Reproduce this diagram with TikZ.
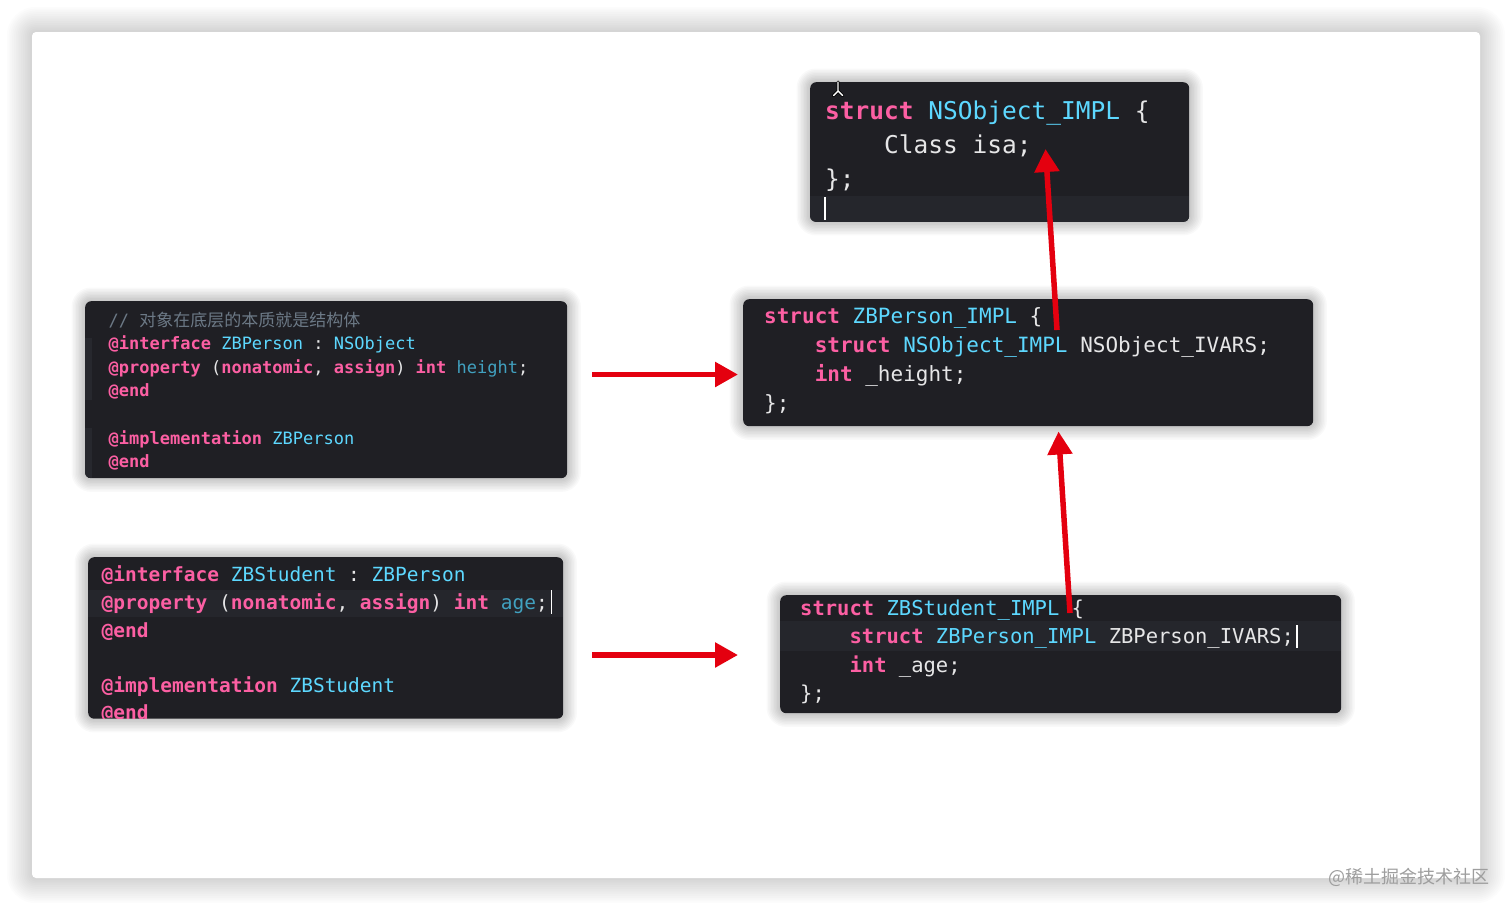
\documentclass[tikz,border=0pt]{standalone}
\usepackage{fontspec}
\setmonofont{DejaVu Sans Mono}
\newfontfamily\cjkfont{Noto Sans CJK SC}
\usetikzlibrary{arrows.meta,calc}
\definecolor{kwc}{HTML}{FC5FA3}
\definecolor{tyc}{HTML}{5DD8FF}
\definecolor{pnc}{HTML}{41A1C0}
\definecolor{txc}{HTML}{E6E6E7}
\definecolor{cmc}{HTML}{6C7986}
\definecolor{bgc}{HTML}{1F1F24}
\definecolor{hlc}{HTML}{25262C}
\definecolor{gutc}{HTML}{27282E}
\definecolor{arrc}{HTML}{E4000F}
\definecolor{wmc}{HTML}{9E9E9E}
\newcommand\Kw[1]{\textcolor{kwc}{\bfseries #1}}
\newcommand\Ty[1]{\textcolor{tyc}{#1}}
\newcommand\Pn[1]{\textcolor{pnc}{#1}}
\newcommand\Cm[1]{\textcolor{cmc}{#1}}
\newcommand\Ind{\phantom{xxxx}}
\newcommand\fA{\ttfamily\fontsize{24.5}{24.5}\selectfont}
\newcommand\fB{\ttfamily\fontsize{21}{21}\selectfont}
\newcommand\fC{\ttfamily\fontsize{20.5}{20.5}\selectfont}
\newcommand\fD{\ttfamily\fontsize{17}{17}\selectfont}
\newcommand\fE{\ttfamily\fontsize{19.5}{19.5}\selectfont}
\pgfdeclarelayer{bg}
\pgfsetlayers{bg,main}
\tikzset{
  box/.style={fill=bgc, rounded corners=6pt, inner sep=0pt, anchor=north west, rectangle},
  code/.style={anchor=base west, inner sep=0pt, text=txc},
  redarrow/.style={draw=arrc, line width=5.5pt, -{Triangle[length=23pt,width=24pt]}},
  cursorline/.style={draw=white, line width=1.5pt}
}
\begin{document}
\begin{tikzpicture}[x=1pt,y=-1pt]
\useasboundingbox (0,0) rectangle (1512,910);

% boxes
\node[box, minimum width=379pt, minimum height=139.5pt] (A) at (810,82) {};
\node[box, minimum width=570pt, minimum height=127pt] (B) at (743,299) {};
\node[box, minimum width=561pt, minimum height=118pt] (C) at (780,595) {};
\node[box, minimum width=482pt, minimum height=177pt] (D) at (85,301) {};
\node[box, minimum width=475pt, minimum height=161.5pt] (E) at (88,557) {};

\begin{pgfonlayer}{bg}
  \fill[white] (0,0) rectangle (1512,910);
  \foreach \i [evaluate=\i as \r using 4+1.8*\i] in {1,...,14}
    \fill[black, opacity=0.011, rounded corners=\r pt] (32-1.8*\i,32-1.8*\i) rectangle (1480+1.8*\i,878+1.8*\i);
  \fill[white, rounded corners=4pt] (32,32) rectangle (1480,878);
  \foreach \n in {A,B,C,D,E}{
    \foreach \i [evaluate=\i as \r using 6+1.5*\i] in {1,...,9}
      \fill[black, opacity=0.022, rounded corners=\r pt] ($(\n.north west)+(-1.5*\i,-1.5*\i)$) rectangle ($(\n.south east)+(1.5*\i,1.5*\i)$);
  }
\end{pgfonlayer}

% line highlights and gutters
\begin{scope}
  \clip[rounded corners=6pt] (A.north west) rectangle (A.south east);
  \fill[hlc] (810,196) rectangle (1189,222);
\end{scope}
\begin{scope}
  \clip[rounded corners=6pt] (C.north west) rectangle (C.south east);
  \fill[hlc] (780,621) rectangle (1341,651);
\end{scope}
\begin{scope}
  \clip[rounded corners=6pt] (D.north west) rectangle (D.south east);
  \fill[gutc] (85,338) rectangle (92,400);
  \fill[gutc] (85,428) rectangle (92,478);
\end{scope}

% Box A
\node[code, font=\fA] (a1) at (825,119) {\Kw{struct} \Ty{NSObject\_IMPL} \{};
\node[code, font=\fA] (a2) at (825,153) {\Ind Class isa;};
\node[code, font=\fA] (a3) at (825,187) {\};};

% Box B
\node[code, font=\fB] (b1) at (764,323) {\Kw{struct} \Ty{ZBPerson\_IMPL} \{};
\node[code, font=\fB] (b2) at (764,352) {\Ind\Kw{struct} \Ty{NSObject\_IMPL} NSObject\_IVARS;};
\node[code, font=\fB] (b3) at (764,381) {\Ind\Kw{int} \_height;};
\node[code, font=\fB] (b4) at (764,410) {\};};

% Box C
\node[code, font=\fC] (c1) at (800,615) {\Kw{struct} \Ty{ZBStudent\_IMPL} \{};
\node[code, font=\fC] (c2) at (800,643.5) {\Ind\Kw{struct} \Ty{ZBPerson\_IMPL} ZBPerson\_IVARS;};
\node[code, font=\fC] (c3) at (800,672) {\Ind\Kw{int} \_age;};
\node[code, font=\fC] (c4) at (800,700) {\};};

% Box D
\node[code, font=\fD] (d1) at (108.5,326) {\Cm{// {\cjkfont 对象在底层的本质就是结构体}}};
\node[code, font=\fD] (d2) at (108.5,349.6) {\Kw{@interface} \Ty{ZBPerson} : \Ty{NSObject}};
\node[code, font=\fD] (d3) at (108.5,373.2) {\Kw{@property} (\Kw{nonatomic}, \Kw{assign}) \Kw{int} \Pn{height};};
\node[code, font=\fD] (d4) at (108.5,396.8) {\Kw{@end}};
\node[code, font=\fD] (d5) at (108.5,444) {\Kw{@implementation} \Ty{ZBPerson}};
\node[code, font=\fD] (d6) at (108.5,467.6) {\Kw{@end}};

% Box E
\begin{scope}
  \clip[rounded corners=6pt] (E.north west) rectangle (E.south east);
  \fill[hlc] (88,590) rectangle (563,617);
  \node[code, font=\fE] (e1) at (101.5,581.7) {\Kw{@interface} \Ty{ZBStudent} : \Ty{ZBPerson}};
  \node[code, font=\fE] (e2) at (101.5,609.3) {\Kw{@property} (\Kw{nonatomic}, \Kw{assign}) \Kw{int} \Pn{age};};
  \node[code, font=\fE] (e3) at (101.5,637) {\Kw{@end}};
  \node[code, font=\fE] (e4) at (101.5,692) {\Kw{@implementation} \Ty{ZBStudent}};
  \node[code, font=\fE] (e5) at (101.5,719.6) {\Kw{@end}};
\end{scope}

% cursors
\draw[cursorline] (825,197) -- (825,220);
\draw[cursorline] (1297,625) -- (1297,648);
\draw[cursorline] (551.5,590) -- (551.5,614);
% mouse I-beam
\draw[black, line width=3pt, line cap=round] (838,82) -- (838,91) (833.5,95.5) -- (838,91) -- (842.5,95.5);
\draw[white, line width=1.4pt, line cap=round] (838,82) -- (838,91) (833.5,95.5) -- (838,91) -- (842.5,95.5);

% arrows
\coordinate (dB1) at (592,374.5);
\coordinate (dB2) at (738,374.5);
\coordinate (eC1) at (592,655);
\coordinate (eC2) at (738,655);
\coordinate (cB1) at (1070,613);
\coordinate (cB2) at (1058.5,431.5);
\coordinate (bA1) at (1057,330);
\coordinate (bA2) at (1045.5,149);
\draw[redarrow] (dB1) -- (dB2);
\draw[redarrow] (eC1) -- (eC2);
\draw[redarrow] (cB1) -- (cB2);
\draw[redarrow] (bA1) -- (bA2);

% watermark
\node[anchor=base west, inner sep=0pt, text=wmc, font=\cjkfont\fontsize{18}{18}\selectfont] (wm) at (1328,883) {@稀土掘金技术社区};
\end{tikzpicture}
\end{document}
